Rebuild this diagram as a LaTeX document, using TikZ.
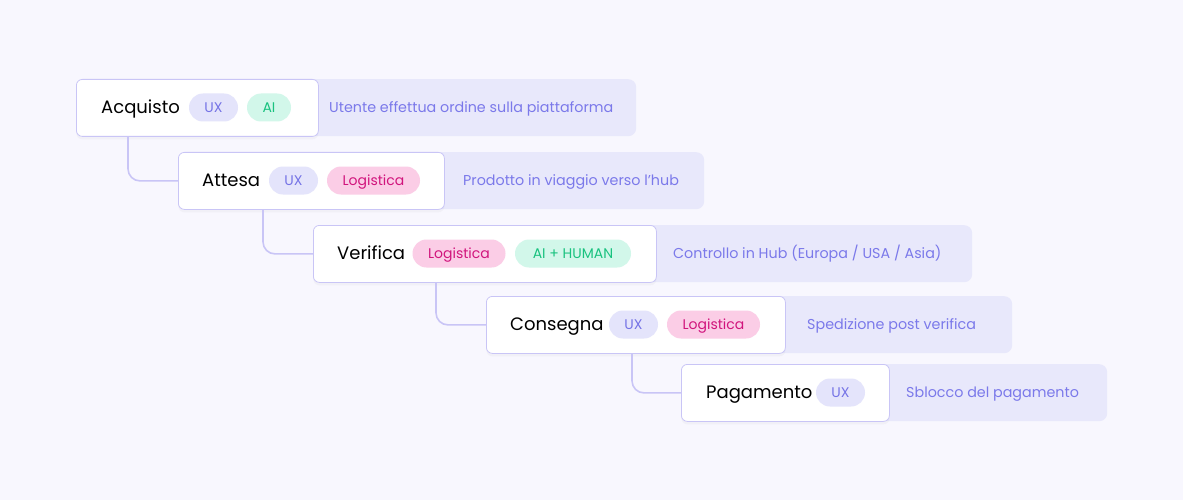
\documentclass[tikz,border=0pt]{standalone}
\usepackage{fontspec}
\setmainfont{Poppins}
\usepackage{xcolor}
\usetikzlibrary{shadows}

\definecolor{pagebg}{HTML}{F8F7FE}
\definecolor{notebg}{HTML}{E8E8FB}
\definecolor{edge}{HTML}{C9C5F6}
\definecolor{uxfill}{HTML}{E4E4FB}
\definecolor{uxtext}{HTML}{7573E6}
\definecolor{aifill}{HTML}{D2F7EA}
\definecolor{aitext}{HTML}{19C27F}
\definecolor{logfill}{HTML}{FBCDE6}
\definecolor{logtext}{HTML}{D1157D}
\definecolor{notetext}{HTML}{7B79EA}

\tikzset{
  stepbox/.style={draw=edge, fill=white, line width=0.8pt, rounded corners=6pt,
    anchor=north west, minimum height=57pt, inner sep=0pt,
    drop shadow={opacity=0.05, shadow xshift=0pt, shadow yshift=-3pt}},
  notebox/.style={fill=notebg, rounded corners=8pt, anchor=north west,
    minimum height=57pt, inner sep=0pt},
  title/.style={anchor=west, inner sep=0pt, text height=12.6pt, text depth=0pt,
    font=\fontsize{18}{20}\selectfont, text=black},
  pill/.style={rounded corners=14pt, minimum height=28pt, inner sep=0pt,
    text height=9.8pt, text depth=0pt, font=\fontsize{14}{16}\selectfont},
  ux/.style={pill, fill=uxfill, text=uxtext, minimum width=49pt},
  ai/.style={pill, fill=aifill, text=aitext},
  logi/.style={pill, fill=logfill, text=logtext, minimum width=93pt},
  note/.style={anchor=west, inner sep=0pt, text height=10pt, text depth=0pt,
    text=notetext, font=\fontsize{14.3}{16}\selectfont},
  conn/.style={draw=edge, line width=1.6pt, rounded corners=12pt},
}

\begin{document}
\begin{tikzpicture}[x=1pt, y=-1pt]
  % page and its margins
  \fill[pagebg] (0,0) rectangle (1183,500);
  \useasboundingbox (0,0) rectangle (1183,500);

  % description strips behind the boxes
  \node[notebox, minimum width=336pt] (n1) at (300,79) {};
  \node[notebox, minimum width=300pt] (n2) at (404,152) {};
  \node[notebox, minimum width=352pt] (n3) at (620,225) {};
  \node[notebox, minimum width=262pt] (n4) at (750,296) {};
  \node[notebox, minimum width=262pt] (n5) at (845,364) {};

  % the steps
  \node[stepbox, minimum width=242pt] (acq) at (76,79) {};
  \node[stepbox, minimum width=266pt] (att) at (178,152) {};
  \node[stepbox, minimum width=343pt] (ver) at (313,225) {};
  \node[stepbox, minimum width=299pt] (con) at (486,296) {};
  \node[stepbox, minimum width=208pt] (pag) at (681,364) {};

  % connectors from one step to the next
  \draw[conn] ([xshift=52pt]acq.south west) |- (att.west);
  \draw[conn] ([xshift=85pt]att.south west) |- (ver.west);
  \draw[conn] ([xshift=123pt]ver.south west) |- (con.west);
  \draw[conn] ([xshift=146pt]con.south west) |- (pag.west);

  % Acquisto
  \node[title] (t1) at (101,107.5) {Acquisto};
  \node[ux] (p11) at (213.5,107.5) {UX};
  \node[ai, minimum width=44pt] (p12) at (269,107.5) {AI};
  \node[note] (d1) at (329,107.5) {Utente effettua ordine sulla piattaforma};

  % Attesa
  \node[title] (t2) at (202,180.5) {Attesa};
  \node[ux] (p21) at (293.5,180.5) {UX};
  \node[logi] (p22) at (373.5,180.5) {Logistica};
  \node[note] (d2) at (463,180.5) {Prodotto in viaggio verso l’hub};

  % Verifica
  \node[title] (t3) at (337,253.5) {Verifica};
  \node[logi] (p31) at (459,253.5) {Logistica};
  \node[ai, minimum width=116pt] (p32) at (573,253.5) {AI + HUMAN};
  \node[note] (d3) at (673,253.5) {Controllo in Hub (Europa / USA / Asia)};

  % Consegna
  \node[title] (t4) at (510,324.5) {Consegna};
  \node[ux] (p41) at (633.5,324.5) {UX};
  \node[logi] (p42) at (713.5,324.5) {Logistica};
  \node[note] (d4) at (807,324.5) {Spedizione post verifica};

  % Pagamento
  \node[title] (t5) at (706,392.5) {Pagamento};
  \node[ux] (p51) at (840.5,392.5) {UX};
  \node[note] (d5) at (906,392.5) {Sblocco del pagamento};
\end{tikzpicture}
\end{document}
